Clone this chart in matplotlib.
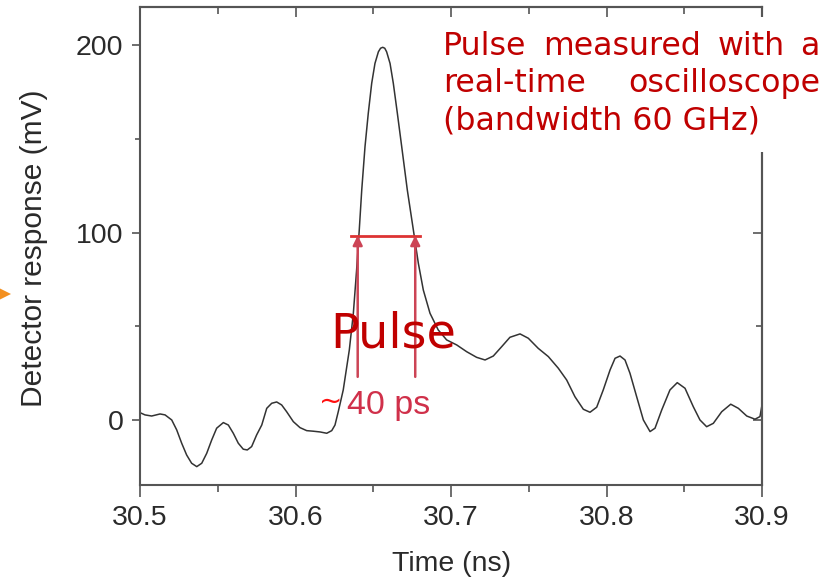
import numpy as np
import matplotlib
matplotlib.use("Agg")
import matplotlib.pyplot as plt
from matplotlib.ticker import MultipleLocator
from matplotlib.patches import Rectangle, Polygon

# traza (ns, mV)
time_ns = [30.5000, 30.5032, 30.5075, 30.5129, 30.5161, 30.5204, 30.5236, 30.5268,
           30.5300, 30.5332, 30.5365, 30.5397, 30.5429, 30.5461, 30.5493, 30.5536,
           30.5568, 30.5600, 30.5632, 30.5664, 30.5690, 30.5718, 30.5750, 30.5783,
           30.5815, 30.5847, 30.5879, 30.5911, 30.5943, 30.5986, 30.6029, 30.6072,
           30.6114, 30.6158, 30.6201, 30.6233, 30.6254, 30.6275, 30.6307, 30.6346,
           30.6372, 30.6393, 30.6410, 30.6426, 30.6447, 30.6468, 30.6490, 30.6511,
           30.6533, 30.6547, 30.6561, 30.6574, 30.6586, 30.6608, 30.6629, 30.6655,
           30.6683, 30.6719, 30.6758, 30.6790, 30.6822, 30.6865, 30.6918, 30.6972,
           30.7037, 30.7101, 30.7165, 30.7219, 30.7272, 30.7326, 30.7379, 30.7444,
           30.7497, 30.7561, 30.7626, 30.7690, 30.7744, 30.7797, 30.7851, 30.7894,
           30.7937, 30.7979, 30.8023, 30.8055, 30.8087, 30.8119, 30.8151, 30.8194,
           30.8237, 30.8280, 30.8312, 30.8355, 30.8408, 30.8455, 30.8505, 30.8558,
           30.8601, 30.8644, 30.8687, 30.8741, 30.8799, 30.8848, 30.8902, 30.8955,
           30.8987, 30.9000]
resp_mv = [3.9, 2.7, 2.1, 3.2, 2.7, 0.0, -5.3, -12.4,
           -18.7, -23.1, -24.9, -23.1, -17.8, -10.7, -4.4, -1.4,
           -2.7, -7.1, -12.4, -15.6, -16.0, -14.2, -8.0, -2.7,
           6.2, 8.9, 9.6, 8.0, 4.4, -0.9, -4.1, -5.7,
           -6.0, -6.4, -7.1, -5.7, -2.7, 4.4, 16.0, 37.3,
           56.9, 80.0, 101.3, 122.7, 145.8, 163.6, 179.6, 190.2,
           196.4, 198.3, 198.8, 198.3, 196.4, 190.2, 179.6, 163.6,
           145.8, 122.7, 101.3, 83.6, 69.3, 56.9, 48.0, 42.7,
           40.0, 36.4, 33.4, 32.0, 34.1, 39.1, 44.1, 45.9,
           43.6, 38.2, 33.8, 27.6, 21.3, 12.4, 5.7, 4.1,
           6.8, 16.0, 26.7, 32.9, 34.1, 32.0, 24.9, 12.4,
           0.0, -6.2, -4.4, 5.3, 16.0, 19.9, 16.9, 7.1,
           0.0, -3.6, -1.8, 4.4, 8.4, 6.2, 2.1, 0.4,
           1.8, 8.0]

# ancho del pulso (FWHM)
fwhm_left = 30.640
fwhm_right = 30.677
fwhm_level = 98.4
arrow_base = 23.0

xticks = [30.5, 30.6, 30.7, 30.8, 30.9]
yticks = [0, 100, 200]

W, H = 836, 581
fig = plt.figure(figsize=(W / 100, H / 100), dpi=100)

def fx(px):
    return px / W

def fy(py):
    return 1 - py / H

ax = fig.add_axes([fx(140), fy(485), (762 - 140) / W, (485 - 7) / H])

ax.plot(time_ns, resp_mv, color="#333333", lw=1.1)

ax.set_xlim(30.5, 30.9)
ax.set_ylim(-34.7, 220.3)
ax.set_xticks(xticks)
ax.set_yticks(yticks)
ax.set_xticklabels([f"{t:.1f}" for t in xticks])
ax.xaxis.set_minor_locator(MultipleLocator(0.05))
ax.yaxis.set_minor_locator(MultipleLocator(50))

for lab in ax.get_xticklabels() + ax.get_yticklabels():
    lab.set_fontfamily("Liberation Sans")
    lab.set_fontsize(20.5)
    lab.set_color("#2a2a2a")

ax.tick_params(axis="x", which="major", direction="out", length=8.5, width=1.2,
               color="#555555", pad=6)
ax.tick_params(axis="x", which="minor", direction="out", length=5, width=1.2,
               color="#555555")
ax.tick_params(axis="y", which="major", direction="out", length=6, width=1.2,
               color="#555555", pad=6)
ax.tick_params(axis="y", which="minor", direction="out", length=3.5, width=1.2,
               color="#555555")

for s in ax.spines.values():
    s.set_color("#555555")
    s.set_linewidth(1.5)

# ticks hacia dentro arriba y a la derecha
top = ax.secondary_xaxis("top")
top.set_xticks(xticks)
top.xaxis.set_minor_locator(MultipleLocator(0.05))
top.tick_params(which="major", direction="in", length=7, width=1.2, color="#555555",
                labeltop=False)
top.tick_params(which="minor", direction="in", length=5, width=1.2, color="#555555")
top.spines["top"].set_color("#555555")
top.spines["top"].set_linewidth(1.5)

right = ax.secondary_yaxis("right")
right.set_yticks(yticks)
right.yaxis.set_minor_locator(MultipleLocator(50))
right.tick_params(which="major", direction="in", length=6.5, width=1.2, color="#555555",
                  labelright=False)
right.tick_params(which="minor", direction="in", length=4, width=1.2, color="#555555")
right.spines["right"].set_color("#555555")
right.spines["right"].set_linewidth(1.5)

ax.set_xlabel("Time (ns)", fontfamily="Liberation Sans", fontsize=20.5, color="#2a2a2a")
ax.set_ylabel("Detector response (mV)", fontfamily="Liberation Sans", fontsize=21.5,
              color="#2a2a2a")
ax.xaxis.set_label_coords(0.5016, -0.138)
ax.yaxis.set_label_coords(-0.148, 0.496)

# marcas del ancho del pulso
ax.plot([30.636, 30.680], [fwhm_level, fwhm_level], color="#dd3333", lw=2)
for xa in (fwhm_left, fwhm_right):
    ax.annotate("", xy=(xa, fwhm_level), xytext=(xa, arrow_base),
                arrowprops=dict(arrowstyle="-|>", color="#cc4455", lw=1.8,
                                mutation_scale=14, shrinkA=0, shrinkB=0))

fig.text(fx(330), fy(348), "Pulse", fontfamily="DejaVu Sans", fontsize=34.5,
         color="#c00000", va="baseline", ha="left")
fig.text(fx(319), fy(410), "~", fontfamily="DejaVu Sans", fontsize=20,
         color="#ff1010", va="baseline", ha="left")
fig.text(fx(347), fy(414), "40 ps", fontfamily="Liberation Sans", fontsize=24.5,
         color="#d0304a", va="baseline", ha="left")

# recuadro blanco con el texto de la esquina
fig.patches.append(Rectangle((fx(436), fy(152)), 1 - fx(436), (152 - 17) / H,
                             transform=fig.transFigure, facecolor="white",
                             edgecolor="none", zorder=5))
words = [("Pulse", 443, 55, "left"), ("measured", 543, 55, "left"),
         ("with", 718, 55, "left"), ("a", 820, 55, "right"),
         ("real-time", 443, 92, "left"), ("oscilloscope", 820, 92, "right"),
         ("(bandwidth 60 GHz)", 443, 129, "left")]
for w, px, py, ha in words:
    fig.text(fx(px), fy(py), w, fontfamily="DejaVu Sans", fontsize=22.8,
             color="#c00000", va="baseline", ha=ha, zorder=6)

# flecha naranja cortada en el borde
fig.patches.append(Polygon([(fx(-9), fy(284)), (fx(-9), fy(304)), (fx(11), fy(294))],
                           closed=True, transform=fig.transFigure,
                           facecolor="#f39020", edgecolor="none", zorder=5))

fig.savefig("out.png", dpi=100)
